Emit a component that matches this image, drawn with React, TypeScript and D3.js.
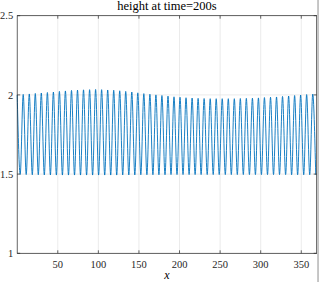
import React from 'react';
import * as d3 from 'd3';

// crest positions / heights
const peakX = [0, 7.4, 14.9, 22.3, 29.7, 37.2, 44.6, 52.0, 59.4, 66.9, 74.3, 81.7, 89.2, 96.6, 104.0, 111.5, 118.9, 126.3, 133.7, 141.2, 148.6, 156.0, 163.5, 170.9, 178.3, 185.8, 193.2, 200.6, 208.0, 215.5, 222.9, 230.3, 237.8, 245.2, 252.6, 260.1, 267.5, 274.9, 282.3, 289.8, 297.2, 304.6, 312.1, 319.5, 326.9, 334.4, 341.8, 349.2, 356.6, 364.1];
const peakH = [2.000, 2.003, 2.006, 2.009, 2.012, 2.015, 2.018, 2.022, 2.025, 2.028, 2.030, 2.032, 2.033, 2.034, 2.033, 2.031, 2.029, 2.026, 2.022, 2.018, 2.013, 2.008, 2.004, 2.000, 1.996, 1.992, 1.988, 1.985, 1.982, 1.980, 1.978, 1.977, 1.976, 1.976, 1.976, 1.976, 1.976, 1.977, 1.978, 1.979, 1.981, 1.983, 1.985, 1.987, 1.990, 1.993, 1.996, 1.999, 2.002, 2.005];
// trough positions / heights
const troughX = [3.7, 11.1, 18.6, 26.0, 33.4, 40.9, 48.3, 55.7, 63.2, 70.6, 78.0, 85.5, 92.9, 100.3, 107.8, 115.2, 122.6, 130.0, 137.5, 144.9, 152.3, 159.8, 167.2, 174.6, 182.1, 189.5, 196.9, 204.3, 211.8, 219.2, 226.6, 234.1, 241.5, 248.9, 256.4, 263.8, 271.2, 278.6, 286.1, 293.5, 300.9, 308.4, 315.8, 323.2, 330.7, 338.1, 345.5, 353.0, 360.4, 367.8];
const troughH = [1.498, 1.497, 1.496, 1.496, 1.495, 1.495, 1.494, 1.494, 1.494, 1.494, 1.494, 1.494, 1.494, 1.494, 1.494, 1.494, 1.494, 1.495, 1.495, 1.495, 1.496, 1.496, 1.496, 1.496, 1.496, 1.497, 1.497, 1.497, 1.497, 1.497, 1.497, 1.497, 1.497, 1.497, 1.497, 1.497, 1.497, 1.497, 1.497, 1.497, 1.497, 1.497, 1.497, 1.497, 1.497, 1.496, 1.496, 1.496, 1.496, 1.496];

const xTicks = [50, 100, 150, 200, 250, 300, 350];
const yTicks = [1, 1.5, 2, 2.5];
const yTickLabels = ['1', '1.5', '2', '2.5'];
const title = 'height at time=200s';

const W = 319;
const H = 282;
const left = 17.2, right = 316.7, top = 15.7, bottom = 253.3;
const font = '"Liberation Serif", "DejaVu Serif", serif';

export default function App() {
  const x = d3.scaleLinear().domain([0, 369]).range([left, right]);
  const y = d3.scaleLinear().domain([1, 2.5]).range([bottom, top]);

  const pts: [number, number][] = [];
  peakX.forEach((px, i) => {
    pts.push([px, peakH[i]]);
    if (i < troughX.length) pts.push([troughX[i], troughH[i]]);
  });

  const line = d3.line<[number, number]>()
    .x(d => x(d[0]))
    .y(d => y(d[1]))
    .curve(d3.curveMonotoneX);

  const tick = 3;

  return (
    <svg width={W} height={H} style={{ position: 'absolute', left: 0, top: 0, background: '#fff' }}>
      <rect x={0} y={0} width={W} height={H} fill="#ffffff" />
      {/* grid */}
      {xTicks.map(t => (
        <line key={'gx' + t} x1={x(t)} x2={x(t)} y1={top} y2={bottom} stroke="#e3e3e3" strokeWidth={0.7} />
      ))}
      {yTicks.map(t => (
        <line key={'gy' + t} x1={left} x2={right} y1={y(t)} y2={y(t)} stroke="#e3e3e3" strokeWidth={0.7} />
      ))}

      <path d={line(pts) || ''} fill="none" stroke="#0072BD" strokeWidth={0.9} />

      {/* box */}
      <rect x={left} y={top} width={right - left} height={bottom - top} fill="none" stroke="#262626" strokeWidth={0.7} />
      {xTicks.map(t => (
        <g key={'tx' + t}>
          <line x1={x(t)} x2={x(t)} y1={bottom} y2={bottom - tick} stroke="#262626" strokeWidth={0.7} />
          <line x1={x(t)} x2={x(t)} y1={top} y2={top + tick} stroke="#262626" strokeWidth={0.7} />
          <text x={x(t)} y={bottom + 14.5} textAnchor="middle" fontFamily={font} fontSize={10.5} fill="#262626">{t}</text>
        </g>
      ))}
      {yTicks.map((t, i) => (
        <g key={'ty' + t}>
          <line x1={left} x2={left + tick} y1={y(t)} y2={y(t)} stroke="#262626" strokeWidth={0.7} />
          <line x1={right} x2={right - tick} y1={y(t)} y2={y(t)} stroke="#262626" strokeWidth={0.7} />
          <text x={left - 4} y={y(t) + 3.6} textAnchor="end" fontFamily={font} fontSize={10.5} fill="#262626">{yTickLabels[i]}</text>
        </g>
      ))}
      <rect x={right + 0.4} y={0} width={W - right} height={H} fill="#c4c4c4" />

      <text x={(left + right) / 2} y={9.8} textAnchor="middle" fontFamily={font} fontSize={12.5} fill="#000">{title}</text>
      <text x={(left + right) / 2} y={279} textAnchor="middle" fontFamily={font} fontStyle="italic" fontSize={12} fill="#000">x</text>
    </svg>
  );
}
